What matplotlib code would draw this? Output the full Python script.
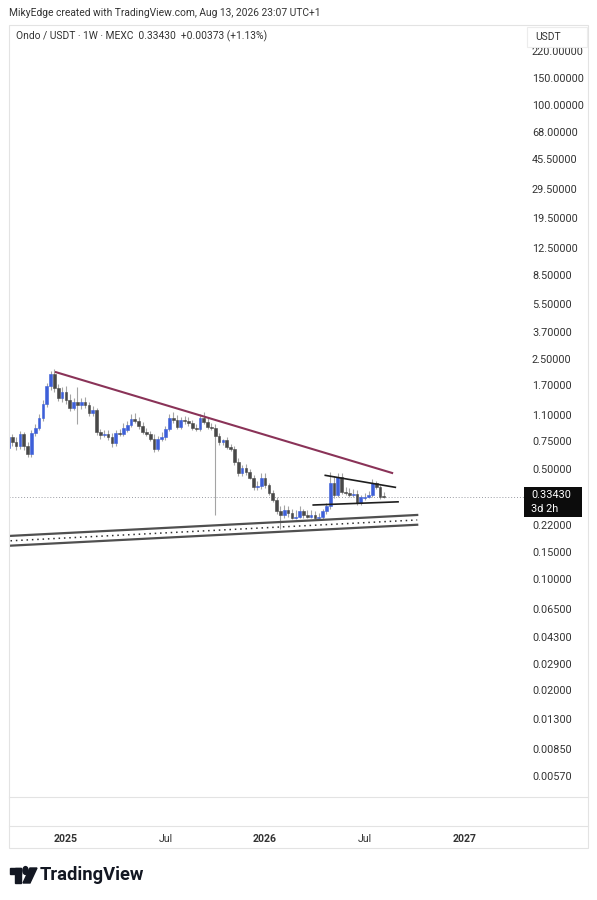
import matplotlib
matplotlib.use('Agg')
import matplotlib.pyplot as plt
import matplotlib.dates as mdates
from matplotlib.patches import Rectangle, Circle, Polygon
import pandas as pd

plt.rcParams['font.family'] = ['Roboto', 'DejaVu Sans']

# ONDO / USDT weekly candles
opens = [0.68, 0.80, 0.74, 0.70, 0.83, 0.70, 0.62, 0.845, 0.91, 1.05,
         1.29, 1.68, 2.00, 1.63, 1.41, 1.53, 1.37, 1.22, 1.33, 1.27,
         1.33, 1.27, 1.13, 1.18, 0.86, 0.82, 0.83, 0.80, 0.73, 0.845,
         0.83, 0.88, 0.95, 1.04, 1.00, 0.94, 0.86, 0.83, 0.78, 0.67,
         0.78, 0.80, 0.90, 1.05, 1.02, 0.92, 1.02, 1.00, 0.98, 0.91,
         0.90, 1.05, 0.99, 0.92, 0.91, 0.81, 0.74, 0.76, 0.69, 0.67,
         0.55, 0.47, 0.51, 0.48, 0.44, 0.385, 0.39, 0.44, 0.395, 0.355,
         0.32, 0.27, 0.255, 0.275, 0.265, 0.245, 0.25, 0.27, 0.255, 0.25,
         0.255, 0.245, 0.25, 0.27, 0.29, 0.41, 0.34, 0.445, 0.36, 0.355,
         0.34, 0.35, 0.305, 0.33, 0.335, 0.34, 0.41, 0.385, 0.338]
highs = [0.86, 0.83, 0.80, 0.87, 0.86, 0.74, 0.88, 0.96, 1.12, 1.37,
         1.75, 2.08, 2.14, 1.73, 1.65, 1.68, 1.49, 1.41, 1.65, 1.41,
         1.43, 1.33, 1.25, 1.22, 0.90, 0.88, 0.88, 0.845, 0.88, 0.90,
         0.98, 1.00, 1.12, 1.13, 1.07, 0.99, 0.91, 0.87, 0.83, 0.81,
         0.86, 0.94, 1.12, 1.15, 1.10, 1.07, 1.08, 1.07, 1.02, 0.96,
         1.12, 1.15, 1.05, 0.98, 0.96, 0.845, 0.78, 0.80, 0.72, 0.70,
         0.59, 0.53, 0.54, 0.50, 0.46, 0.42, 0.47, 0.47, 0.41, 0.37,
         0.335, 0.29, 0.295, 0.29, 0.28, 0.275, 0.29, 0.28, 0.275, 0.275,
         0.27, 0.265, 0.28, 0.305, 0.48, 0.45, 0.47, 0.47, 0.385, 0.38,
         0.375, 0.37, 0.34, 0.355, 0.365, 0.43, 0.42, 0.395, 0.36]
lows = [0.64, 0.70, 0.66, 0.67, 0.66, 0.595, 0.60, 0.81, 0.88, 1.00,
        1.24, 1.58, 1.53, 1.35, 1.33, 1.29, 1.16, 1.18, 0.96, 1.20,
        1.22, 1.08, 1.08, 0.82, 0.78, 0.80, 0.76, 0.69, 0.70, 0.81,
        0.81, 0.86, 0.92, 0.98, 0.90, 0.83, 0.81, 0.75, 0.64, 0.65,
        0.75, 0.76, 0.87, 0.98, 0.90, 0.90, 0.96, 0.94, 0.88, 0.87,
        0.87, 0.96, 0.90, 0.88, 0.255, 0.71, 0.71, 0.67, 0.65, 0.53,
        0.45, 0.45, 0.46, 0.43, 0.37, 0.37, 0.375, 0.38, 0.34, 0.31,
        0.26, 0.21, 0.245, 0.25, 0.24, 0.24, 0.245, 0.245, 0.245, 0.245,
        0.24, 0.24, 0.24, 0.26, 0.28, 0.33, 0.335, 0.35, 0.34, 0.335,
        0.335, 0.295, 0.295, 0.32, 0.33, 0.335, 0.375, 0.325, 0.33]
closes = [0.80, 0.74, 0.70, 0.83, 0.70, 0.62, 0.845, 0.91, 1.05, 1.29,
          1.68, 2.00, 1.63, 1.41, 1.53, 1.37, 1.22, 1.33, 1.27, 1.33,
          1.27, 1.13, 1.18, 0.86, 0.82, 0.83, 0.80, 0.73, 0.845, 0.83,
          0.91, 0.95, 1.04, 1.00, 0.94, 0.86, 0.83, 0.78, 0.67, 0.78,
          0.80, 0.90, 1.05, 1.02, 0.92, 1.02, 1.00, 0.98, 0.91, 0.90,
          1.05, 0.99, 0.92, 0.91, 0.81, 0.74, 0.76, 0.69, 0.67, 0.55,
          0.47, 0.51, 0.48, 0.44, 0.385, 0.39, 0.44, 0.395, 0.355, 0.32,
          0.27, 0.255, 0.275, 0.265, 0.245, 0.25, 0.27, 0.255, 0.25, 0.255,
          0.245, 0.25, 0.27, 0.29, 0.41, 0.34, 0.445, 0.36, 0.355, 0.34,
          0.35, 0.305, 0.335, 0.335, 0.34, 0.41, 0.385, 0.3306, 0.3343]
last_week = '2026-08-10'
last_price = 0.3343

price_ticks = [220, 150, 100, 68, 45.5, 29.5, 19.5, 12.5, 8.5, 5.5, 3.7, 2.5,
               1.7, 1.1, 0.75, 0.5, 0.22, 0.15, 0.10, 0.065, 0.043, 0.029,
               0.020, 0.013, 0.0085, 0.0057]
time_ticks = ['2025-01-06', '2025-07-07', '2026-01-05', '2026-07-06', '2027-01-04']
time_labels = ['2025', 'Jul', '2026', 'Jul', '2027']

# hand drawn lines on the chart: (dates, prices)
resistance = (['2024-12-17', '2026-08-27'], [2.06, 0.47])
flag_top = (['2026-04-25', '2026-08-31'], [0.456, 0.383])
flag_bottom = (['2026-04-03', '2026-09-05'], [0.296, 0.310])
channel_top = (['2024-09-17', '2026-10-10'], [0.188, 0.256])
channel_mid = (['2024-09-17', '2026-10-10'], [0.175, 0.238])
channel_bottom = (['2024-09-17', '2026-10-10'], [0.163, 0.222])

W, H = 597, 900


def fx(px):
    return px / W


def fy(py):
    return 1 - py / H


fig = plt.figure(figsize=(W / 100, H / 100), dpi=100)
fig.patch.set_facecolor('white')
ax = fig.add_axes([fx(9), fy(797), (525 - 9) / W, (797 - 25) / H])
ax.set_facecolor('white')

dates = pd.date_range(end=last_week, periods=len(closes), freq='W-MON')
xd = mdates.date2num(dates)
up_col = '#3d5fd9'
down_col = '#484848'
wick_col = '#a4a4a4'

ax.vlines(xd, lows, highs, color=wick_col, lw=0.8, zorder=2)
for x, o, c in zip(xd, opens, closes):
    col = up_col if c >= o else down_col
    ax.bar(x, abs(c - o), bottom=min(o, c), width=5.0, color=col,
           edgecolor=col, linewidth=0.4, zorder=3)


def line(seg, **kw):
    d, p = seg
    ax.plot(mdates.date2num(pd.to_datetime(d)), p, **kw)


line(resistance, color='#8a3358', lw=1.5, zorder=4, solid_capstyle='butt')
line(flag_top, color='#1e1e1e', lw=1.2, zorder=4)
line(flag_bottom, color='#1e1e1e', lw=1.2, zorder=4)
line(channel_top, color='#505050', lw=1.6, zorder=4)
line(channel_bottom, color='#505050', lw=1.6, zorder=4)
line(channel_mid, color='#303030', lw=1.1, ls=(0, (1, 2.5)), zorder=4)

ax.axhline(last_price, color='#9a9ca3', lw=0.7, ls=(0, (1, 2)), zorder=1)

ax.set_yscale('log')
ax.set_ylim(0.0042, 323)
ax.set_xlim(mdates.date2num(pd.Timestamp('2024-09-24')),
            mdates.date2num(pd.Timestamp('2027-04-25')))
ax.yaxis.tick_right()
ax.set_yticks(price_ticks)
ax.set_yticklabels([f'{v:.5f}' for v in price_ticks])
ax.yaxis.set_minor_locator(matplotlib.ticker.NullLocator())
ax.tick_params(axis='y', length=0, pad=5, labelsize=7.8, labelcolor='#333333')
ax.set_xticks(mdates.date2num(pd.to_datetime(time_ticks)))
ax.set_xticklabels(time_labels)
ax.tick_params(axis='x', length=0, pad=27, labelsize=7.6, labelcolor='#333333')
for lab in ax.get_xticklabels():
    if lab.get_text() != 'Jul':
        lab.set_fontweight('bold')
for s in ax.spines.values():
    s.set_visible(False)

# frame of the chart
border = '#e3e3e3'
fig.patches.append(Rectangle((fx(9), fy(848)), fx(588) - fx(9), fy(25) - fy(848),
                             transform=fig.transFigure, fill=False,
                             edgecolor=border, lw=0.8))
for yy in (797, 826):
    fig.add_artist(plt.Line2D([fx(9), fx(588)], [fy(yy), fy(yy)],
                              transform=fig.transFigure, color=border, lw=0.8))

fig.text(fx(9), fy(13), 'MikyEdge created with TradingView.com, Aug 13, 2026 23:07 UTC+1',
         fontsize=7.4, color='#333333', va='center')
fig.text(fx(16), fy(36), 'Ondo / USDT · 1W · MEXC  0.33430  +0.00373 (+1.13%)',
         fontsize=7.4, color='#333333', va='center')

# currency box
fig.patches.append(Rectangle((fx(527), fy(47)), fx(587) - fx(527), fy(27) - fy(47),
                             transform=fig.transFigure, facecolor='white',
                             edgecolor='#ececec', lw=0.8, zorder=5))
fig.text(fx(535), fy(37), 'USDT', fontsize=7.4, color='#333333', va='center', zorder=6)

# last price label
fig.patches.append(Rectangle((fx(524), fy(517)), fx(582) - fx(524), fy(487) - fy(517),
                             transform=fig.transFigure, facecolor='#0c0c0c',
                             edgecolor='none', zorder=5))
fig.text(fx(531), fy(495.5), '0.33430', fontsize=7.8, color='white', va='center', zorder=6)
fig.text(fx(531), fy(509), '3d 2h', fontsize=7.8, color='white', va='center', zorder=6)

# TradingView logo
logo = '#131722'
fig.patches.append(Rectangle((fx(10), fy(874)), fx(21) - fx(10), fy(868) - fy(874),
                             transform=fig.transFigure, color=logo))
fig.patches.append(Rectangle((fx(15), fy(883)), fx(21) - fx(15), fy(868) - fy(883),
                             transform=fig.transFigure, color=logo))
fig.patches.append(Circle((fx(25.5), fy(870.5)), 2.6 / W, transform=fig.transFigure, color=logo))
fig.patches.append(Polygon([(fx(30), fy(868)), (fx(37), fy(868)), (fx(30), fy(883)), (fx(23), fy(883))],
                           closed=True, transform=fig.transFigure, color=logo))
fig.text(fx(40), fy(875.5), 'TradingView', fontsize=13.2, fontweight='bold',
         color=logo, va='center')

fig.savefig('out.png', dpi=100, facecolor='white')
